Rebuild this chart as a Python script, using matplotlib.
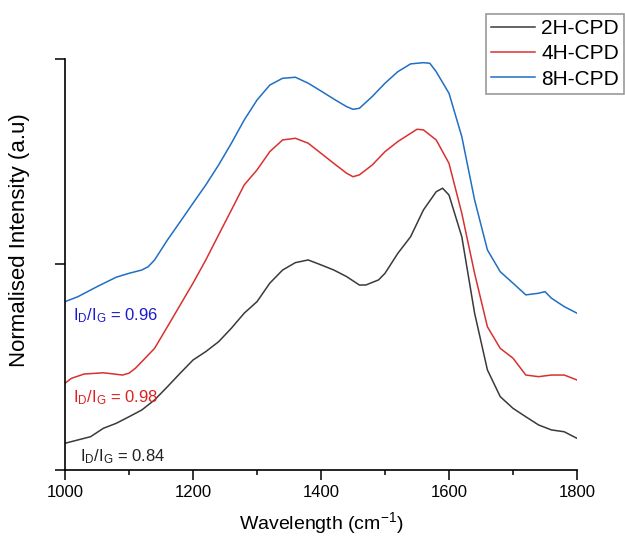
import matplotlib
matplotlib.use('Agg')
import matplotlib.pyplot as plt
from matplotlib.ticker import MultipleLocator

plt.rcParams['font.family'] = ['Liberation Sans', 'DejaVu Sans']
plt.rcParams['mathtext.fontset'] = 'custom'
plt.rcParams['mathtext.rm'] = 'Liberation Sans'

# spectra (normalised, offset)
wn_2h = [1000, 1020, 1040, 1060, 1080, 1100, 1120, 1140, 1160, 1180, 1200, 1220, 1240,
         1260, 1280, 1300, 1320, 1340, 1360, 1380, 1400, 1420, 1440, 1460, 1470, 1490,
         1500, 1520, 1540, 1560, 1580, 1590, 1600, 1620, 1640, 1660, 1680, 1700, 1720,
         1740, 1760, 1780, 1800]
int_2h = [0.130, 0.146, 0.162, 0.203, 0.227, 0.259, 0.292, 0.341, 0.405, 0.471, 0.535,
          0.576, 0.624, 0.690, 0.763, 0.819, 0.909, 0.973, 1.009, 1.022, 0.998, 0.973,
          0.941, 0.900, 0.900, 0.925, 0.957, 1.054, 1.135, 1.265, 1.354, 1.371, 1.338,
          1.135, 0.763, 0.487, 0.357, 0.300, 0.259, 0.219, 0.195, 0.186, 0.154]

wn_4h = [1000, 1010, 1030, 1060, 1090, 1100, 1110, 1120, 1140, 1160, 1180, 1200, 1220,
         1240, 1260, 1280, 1300, 1320, 1340, 1360, 1380, 1400, 1420, 1440, 1450, 1460,
         1480, 1500, 1520, 1540, 1550, 1560, 1580, 1600, 1620, 1640, 1660, 1680, 1700,
         1720, 1740, 1760, 1780, 1800]
int_4h = [0.422, 0.446, 0.467, 0.473, 0.462, 0.471, 0.495, 0.527, 0.592, 0.697, 0.803,
          0.909, 1.022, 1.144, 1.265, 1.387, 1.460, 1.549, 1.606, 1.614, 1.590, 1.541,
          1.492, 1.444, 1.427, 1.436, 1.484, 1.549, 1.598, 1.638, 1.658, 1.655, 1.606,
          1.492, 1.249, 0.957, 0.697, 0.592, 0.544, 0.462, 0.454, 0.462, 0.462, 0.438]

wn_8h = [1000, 1020, 1050, 1080, 1100, 1120, 1130, 1140, 1160, 1180, 1200, 1220, 1240,
         1260, 1280, 1300, 1320, 1340, 1360, 1380, 1400, 1420, 1440, 1450, 1460, 1480,
         1500, 1520, 1540, 1560, 1570, 1580, 1600, 1620, 1640, 1660, 1680, 1700, 1720,
         1740, 1750, 1760, 1780, 1800]
int_8h = [0.819, 0.843, 0.892, 0.938, 0.957, 0.973, 0.989, 1.022, 1.119, 1.208, 1.298,
          1.387, 1.484, 1.590, 1.703, 1.800, 1.873, 1.906, 1.911, 1.882, 1.844, 1.805,
          1.768, 1.755, 1.760, 1.817, 1.882, 1.938, 1.976, 1.982, 1.979, 1.938, 1.833,
          1.622, 1.314, 1.071, 0.965, 0.909, 0.852, 0.860, 0.868, 0.836, 0.795, 0.763]

labels = ['2H-CPD', '4H-CPD', '8H-CPD']
ratios = ['0.84', '0.98', '0.96']

fig = plt.figure(figsize=(6.25, 5.37), dpi=100)
ax = fig.add_axes([0.104, 0.1248, 0.8192, 0.7654])

ax.plot(wn_2h, int_2h, color='#3a3a3a', lw=1.1, label=labels[0])
ax.plot(wn_4h, int_4h, color='#d93030', lw=1.1, label=labels[1])
ax.plot(wn_8h, int_8h, color='#1f6fc4', lw=1.1, label=labels[2])

# I_D/I_G annotations
ax.text(1024, 0.04, r'$\mathregular{I_D/I_G}$ = ' + ratios[0], color='#202020', fontsize=12)
ax.text(1013, 0.33, r'$\mathregular{I_D/I_G}$ = ' + ratios[1], color='#e02020', fontsize=12)
ax.text(1013, 0.73, r'$\mathregular{I_D/I_G}$ = ' + ratios[2], color='#1a1ad0', fontsize=12)

ax.set_xlim(1000, 1800)
ax.set_ylim(0, 2)
ax.xaxis.set_major_locator(MultipleLocator(200))
ax.xaxis.set_minor_locator(MultipleLocator(100))
ax.set_yticks([0, 1, 2])
ax.set_yticklabels([])
ax.tick_params(axis='both', which='major', direction='out', length=7, width=1.1, labelsize=12)
ax.tick_params(axis='x', which='minor', direction='out', length=3.5, width=1.1)

for s in ['top', 'right']:
    ax.spines[s].set_visible(False)
for s in ['left', 'bottom']:
    ax.spines[s].set_linewidth(1.2)

ax.set_xlabel('Wavelength (cm$^{-1}$)', fontsize=14, labelpad=8)
ax.set_ylabel('Normalised Intensity (a.u)', fontsize=16)
ax.yaxis.set_label_coords(-0.068, 0.56)

leg = ax.legend(loc='upper right', bbox_to_anchor=(0.9984, 0.974), bbox_transform=fig.transFigure,
                fontsize=15, frameon=True, fancybox=False, edgecolor='#808080',
                handlelength=2.1, handletextpad=0.3, labelspacing=0.3, borderpad=0.25,
                borderaxespad=0)
leg.get_frame().set_linewidth(1.2)

plt.savefig('out.png', dpi=100)
